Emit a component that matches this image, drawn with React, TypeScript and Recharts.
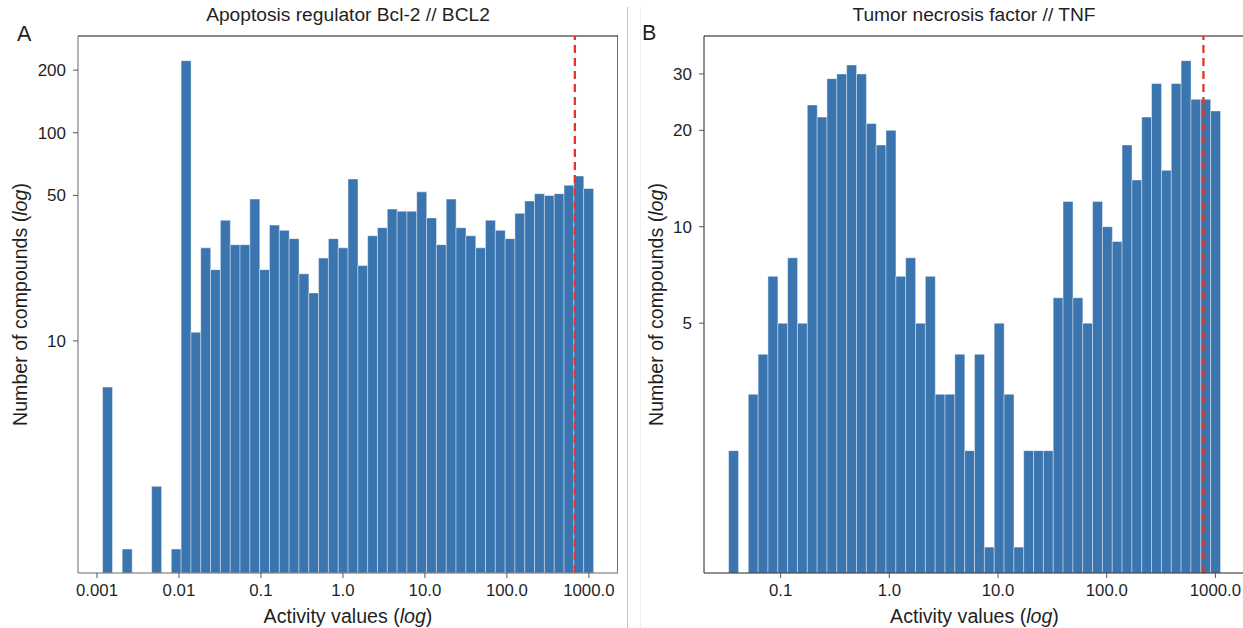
import React from 'react';
import { ComposedChart, Bar, XAxis, YAxis, ReferenceLine } from 'recharts';

// log10 of min / max activity value -> 50 equal log bins
const bcl2LogRange = [-2.932, 3.056];
const bcl2Counts = [
  6, 0, 1, 0, 0, 2, 0, 1, 222, 11,
  28, 22, 38, 29, 29, 48, 22, 36, 34, 31,
  21, 17, 25, 31, 28, 60, 23, 32, 35, 43,
  42, 42, 52, 39, 29, 48, 35, 32, 28, 38,
  34, 31, 41, 47, 51, 50, 51, 56, 62, 54,
];
const bcl2Cutoff = 675;
const bcl2YDomain = [0.767, 291.7];
const bcl2YTicks = [10, 50, 100, 200];

const tnfLogRange = [-1.479, 3.046];
const tnfCounts = [
  2, 0, 3, 4, 7, 5, 8, 5, 24, 22,
  29, 30, 32, 30, 21, 18, 20, 7, 8, 5,
  7, 3, 3, 4, 2, 4, 1, 5, 3, 1,
  2, 2, 2, 6, 12, 6, 5, 12, 10, 9,
  18, 14, 22, 28, 15, 28, 33, 25, 25, 23,
];
const tnfCutoff = 776;
const tnfYDomain = [0.83, 39.4];
const tnfYTicks = [5, 10, 20, 30];

const xTicksBcl2 = [-3, -2, -1, 0, 1, 2, 3];
const xTicksTnf = [-1, 0, 1, 2, 3];

const FONT = '"Liberation Sans", Arial, Helvetica, sans-serif';
const TEXT = '#1f1f1f';
const BAR = '#3a75b0';

function toBins(range: number[], counts: number[]) {
  const w = (range[1] - range[0]) / counts.length;
  return counts
    .map((c, i) => ({ x: range[0] + (i + 0.5) * w, count: c }))
    .filter((d) => d.count > 0);
}

function padded(range: number[]) {
  const m = (range[1] - range[0]) * 0.05;
  return [range[0] - m, range[1] + m];
}

const fmtX = (t: number) => (t < 0 ? Math.pow(10, t).toFixed(-t) : Math.pow(10, t).toFixed(1));

function XTitle(props: any) {
  const vb = props.viewBox;
  return (
    <text x={vb.x + vb.width / 2} y={vb.y + 50} textAnchor="middle" fontSize={19.6} fill={TEXT}>
      Activity values (<tspan fontStyle="italic">log</tspan>)
    </text>
  );
}

function YTitle(props: any) {
  const vb = props.viewBox;
  const cx = vb.x + props.dx;
  const cy = vb.y + vb.height / 2;
  return (
    <text x={cx} y={cy} textAnchor="middle" dominantBaseline="central" fontSize={19.6} fill={TEXT}
      transform={`rotate(-90 ${cx} ${cy})`}>
      Number of compounds (<tspan fontStyle="italic">log</tspan>)
    </text>
  );
}

function Histogram({ range, counts, cutoff, yDomain, yTicks, xTicks, width, axisColor, frameColor, labelDx }: any) {
  const data = toBins(range, counts);
  const xDomain = padded(range);
  return (
    <ComposedChart width={width} height={628} data={data} barCategoryGap={0} barGap={0}
      margin={{ top: 36, right: 0, bottom: 0, left: 0 }}>
      <XAxis type="number" dataKey="x" domain={xDomain} ticks={xTicks} tickFormatter={fmtX}
        allowDataOverflow interval={0} height={55} tickSize={5} tickMargin={6}
        axisLine={{ stroke: axisColor }} tickLine={{ stroke: '#555' }}
        tick={{ fontSize: 16.8, fill: TEXT }} label={<XTitle />} />
      <YAxis type="number" scale="log" domain={yDomain} ticks={yTicks} allowDataOverflow interval={0}
        width={70} tickSize={5} tickMargin={7}
        axisLine={{ stroke: axisColor }} tickLine={{ stroke: '#555' }}
        tick={{ fontSize: 17, fill: TEXT }} label={<YTitle dx={labelDx} />} />
      <ReferenceLine y={yDomain[1]} stroke={frameColor} strokeWidth={1.2} ifOverflow="visible" />
      <ReferenceLine x={xDomain[1]} stroke={frameColor} strokeWidth={1.2} ifOverflow="visible" />
      <Bar dataKey="count" fill={BAR} stroke="#ffffff" strokeWidth={0.6} strokeOpacity={0.75}
        isAnimationActive={false} />
      <ReferenceLine x={Math.log10(cutoff)} stroke="#e8332c" strokeWidth={2.3} strokeDasharray="8 5" />
    </ComposedChart>
  );
}

export default function App() {
  return (
    <div style={{ position: 'absolute', left: 0, top: 0, width: 1243, height: 628, overflow: 'hidden',
      background: '#fff', fontFamily: FONT, color: TEXT }}>
      <div style={{ position: 'absolute', left: 8, top: 0 }}>
        <Histogram range={bcl2LogRange} counts={bcl2Counts} cutoff={bcl2Cutoff} yDomain={bcl2YDomain}
          yTicks={bcl2YTicks} xTicks={xTicksBcl2} width={610} axisColor="#6b6b6b" frameColor="#111" labelDx={12} />
      </div>
      <div style={{ position: 'absolute', left: 634, top: 0 }}>
        <Histogram range={tnfLogRange} counts={tnfCounts} cutoff={tnfCutoff} yDomain={tnfYDomain}
          yTicks={tnfYTicks} xTicks={xTicksTnf} width={611} axisColor="#222" frameColor="#111" labelDx={22} />
      </div>

      <div style={{ position: 'absolute', left: 78, width: 540, top: 4, textAlign: 'center', fontSize: 19.2, lineHeight: '22px' }}>
        Apoptosis regulator Bcl-2 // BCL2
      </div>
      <div style={{ position: 'absolute', left: 704, width: 540, top: 4, textAlign: 'center', fontSize: 19.2, lineHeight: '22px' }}>
        Tumor necrosis factor // TNF
      </div>
      <div style={{ position: 'absolute', left: 17, top: 22, fontSize: 21.5, lineHeight: '24px' }}>A</div>
      <div style={{ position: 'absolute', left: 642, top: 21, fontSize: 21.5, lineHeight: '24px' }}>B</div>

      <div style={{ position: 'absolute', left: 627, top: 7, width: 1, height: 621, background: '#c4c4c4' }} />
      <div style={{ position: 'absolute', left: 640, top: 7, width: 1, height: 621, background: '#f1f1f1' }} />
    </div>
  );
}
